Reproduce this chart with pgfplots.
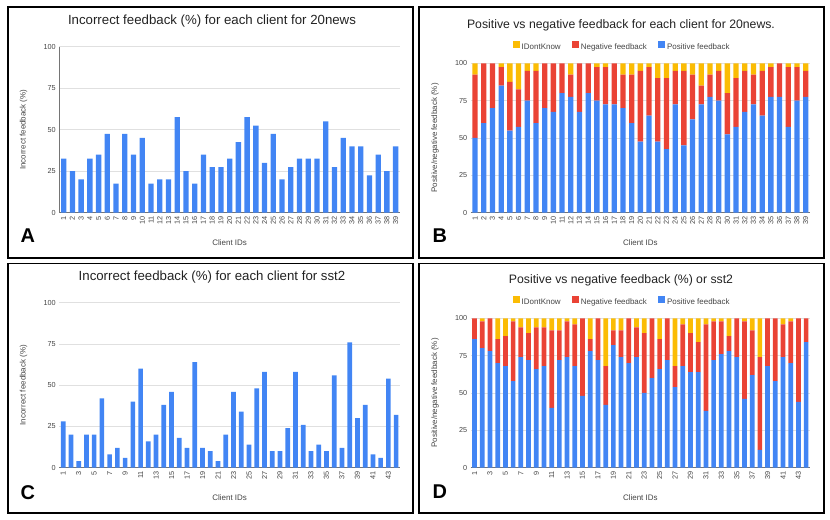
\documentclass[border=0pt]{standalone}
\usepackage{pgfplots}
\pgfplotsset{compat=1.18}
\usepackage{pgfplotstable}
\usepackage{fontspec}
\setmainfont{Liberation Sans}

\definecolor{gblue}{HTML}{4285F4}
\definecolor{gred}{HTML}{EA4335}
\definecolor{gyellow}{HTML}{FBBC04}
\definecolor{ggrid}{HTML}{E0E0E0}
\definecolor{gaxis}{HTML}{757575}
\definecolor{gtext}{HTML}{444444}
\definecolor{gtitle}{HTML}{222222}

% incorrect feedback (%), 20news
\pgfplotstableread{
id val
1 32.5
2 25
3 20
4 32.5
5 35
6 47.5
7 17.5
8 47.5
9 35
10 45
11 17.5
12 20
13 20
14 57.5
15 25
16 17.5
17 35
18 27.5
19 27.5
20 32.5
21 42.5
22 57.5
23 52.5
24 30
25 47.5
26 20
27 27.5
28 32.5
29 32.5
30 32.5
31 55
32 27.5
33 45
34 40
35 40
36 22.5
37 35
38 25
39 40
}\incnews

% incorrect feedback (%), sst2
\pgfplotstableread{
id val
1 28
2 20
3 4
4 20
5 20
6 42
7 8
8 12
9 6
10 40
11 60
12 16
13 20
14 38
15 46
16 18
17 12
18 64
19 12
20 10
21 4
22 20
23 46
24 34
25 14
26 48
27 58
28 10
29 10
30 24
31 58
32 26
33 10
34 14
35 10
36 56
37 12
38 76
39 30
40 38
41 8
42 6
43 54
44 32
}\incsst

% positive / negative / don't know (%), 20news
\pgfplotstableread{
id pos neg idk
1 50 42.5 7.5
2 60 40 0
3 70 30 0
4 85 12.5 2.5
5 55 32.5 12.5
6 57.5 25 17.5
7 75 20 5
8 60 35 5
9 70 30 0
10 67.5 32.5 0
11 80 20 0
12 77.5 15 7.5
13 67.5 32.5 0
14 80 20 0
15 75 22.5 2.5
16 72.5 25 2.5
17 72.5 27.5 0
18 70 22.5 7.5
19 60 32.5 7.5
20 47.5 47.5 5
21 65 32.5 2.5
22 47.5 42.5 10
23 42.5 47.5 10
24 72.5 22.5 5
25 45 50 5
26 62.5 30 7.5
27 72.5 12.5 15
28 77.5 15 7.5
29 75 20 5
30 52.5 27.5 20
31 57.5 32.5 10
32 67.5 27.5 5
33 72.5 20 7.5
34 65 30 5
35 77.5 20 2.5
36 77.5 22.5 0
37 57.5 40 2.5
38 75 22.5 2.5
39 77.5 17.5 5
}\fbnews

% positive / negative / don't know (%), sst2
\pgfplotstableread{
id pos neg idk
1 86 14 0
2 80 18 2
3 78 22 0
4 70 16 14
5 68 20 12
6 58 40 2
7 74 20 6
8 72 18 10
9 66 28 6
10 68 26 6
11 40 52 8
12 72 20 8
13 74 24 2
14 68 28 4
15 48 52 0
16 78 8 14
17 72 28 0
18 42 26 32
19 82 10 8
20 74 18 8
21 70 30 0
22 74 20 6
23 50 40 10
24 60 40 0
25 66 20 14
26 72 28 0
27 54 14 32
28 68 28 4
29 64 26 10
30 64 20 16
31 38 58 4
32 72 26 2
33 76 22 2
34 78 10 12
35 74 26 0
36 46 52 2
37 62 30 8
38 12 62 26
39 68 32 0
40 58 42 0
41 74 22 4
42 70 28 2
43 44 56 0
44 84 16 0
}\fbsst

\pgfplotsset{
  panel/.style={
    scale only axis, anchor=south west,
    ymin=0, ymax=100, ytick={0,25,50,75,100},
    ymajorgrids, grid style={ggrid, line width=0.6bp},
    axis x line*=bottom, axis y line*=left,
    x axis line style={gaxis, line width=0.8bp, -},
    y axis line style={draw=none},
    major tick length=0pt,
    tick label style={font=\fontsize{7.3}{8}\selectfont, text=gtext},
    x tick label style={rotate=90, anchor=east},
    /pgf/number format/assume math mode=true,
    label style={font=\fontsize{8}{9}\selectfont, text=gtext},
    xlabel={Client IDs},
    xlabel style={at={(axis description cs:0.5,0)}, anchor=center, yshift=-29.5bp},
    ylabel style={at={(axis description cs:-0.105,0.5)}, anchor=center},
  },
  fblegend/.style={
    legend columns=-1, reverse legend,
    legend style={at={(axis description cs:0.446,1)}, anchor=center, yshift=16bp,
      draw=none, fill=none, inner sep=0pt, font=\fontsize{8}{9}\selectfont, text=gtext,
      /tikz/every even column/.append style={column sep=9bp}},
  },
}

\newcommand\sq[1]{\fill[#1] (0bp,-0.7bp) rectangle (7.2bp,6.5bp);}

\begin{document}
\begin{tikzpicture}
\path[use as bounding box] (0,0) rectangle (830bp,520bp);

% frames
\draw[line width=1.1bp] (8bp,262bp) rectangle (413bp,513bp);
\draw[line width=1.1bp] (419bp,262bp) rectangle (824bp,513bp);
\draw[line width=1.1bp] (8bp,7bp) rectangle (413bp,256.5bp);
\draw[line width=1.1bp] (419bp,7bp) rectangle (824bp,256.5bp);

% A
\begin{axis}[panel, at={(59.3bp,307.3bp)}, width=340.7bp, height=166bp,
  xmin=0.5, xmax=39.5, xtick={1,...,39},
  y axis line style={gaxis, line width=0.8bp, -, draw},
  ylabel={Incorrect feedback (\%)},
  ybar, bar width=5.3bp]
\addplot[fill=gblue, draw=none] table[x=id, y=val] {\incnews};
\end{axis}

% B
\begin{axis}[panel, fblegend, at={(470.7bp,307.3bp)}, width=339.3bp, height=149.4bp,
  xmin=0.5, xmax=39.5, xtick={1,...,39},
  ylabel={Positive/negative feedback (\%)},
  ybar stacked, bar width=5.3bp]
\addplot[fill=gblue, draw=none, legend image code/.code={\sq{gblue}}] table[x=id, y=pos] {\fbnews};
\addplot[fill=gred, draw=none, legend image code/.code={\sq{gred}}] table[x=id, y=neg] {\fbnews};
\addplot[fill=gyellow, draw=none, legend image code/.code={\sq{gyellow}}] table[x=id, y=idk] {\fbnews};
\legend{Positive feedback, Negative feedback, IDontKnow}
\end{axis}

% C
\begin{axis}[panel, at={(59.3bp,52.3bp)}, width=340.7bp, height=165bp,
  xmin=0.5, xmax=44.5, xtick={1,3,...,43},
  ylabel={Incorrect feedback (\%)},
  ybar, bar width=4.7bp]
\addplot[fill=gblue, draw=none] table[x=id, y=val] {\incsst};
\end{axis}

% D
\begin{axis}[panel, fblegend, at={(470.7bp,52.3bp)}, width=339.3bp, height=149.4bp,
  xmin=0.5, xmax=44.5, xtick={1,3,...,43},
  ylabel={Positive/negative feedback (\%)},
  ybar stacked, bar width=4.7bp]
\addplot[fill=gblue, draw=none, legend image code/.code={\sq{gblue}}] table[x=id, y=pos] {\fbsst};
\addplot[fill=gred, draw=none, legend image code/.code={\sq{gred}}] table[x=id, y=neg] {\fbsst};
\addplot[fill=gyellow, draw=none, legend image code/.code={\sq{gyellow}}] table[x=id, y=idk] {\fbsst};
\legend{Positive feedback, Negative feedback, IDontKnow}
\end{axis}

% titles
\node[anchor=base, text=gtitle, font=\fontsize{13.3}{14}\selectfont] at (212bp,495bp) {Incorrect feedback (\%) for each client for 20news};
\node[anchor=base, text=gtitle, font=\fontsize{12.3}{14}\selectfont] at (621bp,491bp) {Positive vs negative feedback for each client for 20news.};
\node[anchor=base, text=gtitle, font=\fontsize{13.3}{14}\selectfont] at (212bp,239bp) {Incorrect feedback (\%) for each client for sst2};
\node[anchor=base, text=gtitle, font=\fontsize{12.3}{14}\selectfont] at (621bp,236bp) {Positive vs negative feedback (\%) or sst2};

% panel letters
\node[anchor=base west, font=\fontsize{20}{20}\selectfont\bfseries] at (17bp,277bp) {A};
\node[anchor=base west, font=\fontsize{20}{20}\selectfont\bfseries] at (429bp,277bp) {B};
\node[anchor=base west, font=\fontsize{20}{20}\selectfont\bfseries] at (17bp,21bp) {C};
\node[anchor=base west, font=\fontsize{20}{20}\selectfont\bfseries] at (429bp,22bp) {D};
\end{tikzpicture}
\end{document}
